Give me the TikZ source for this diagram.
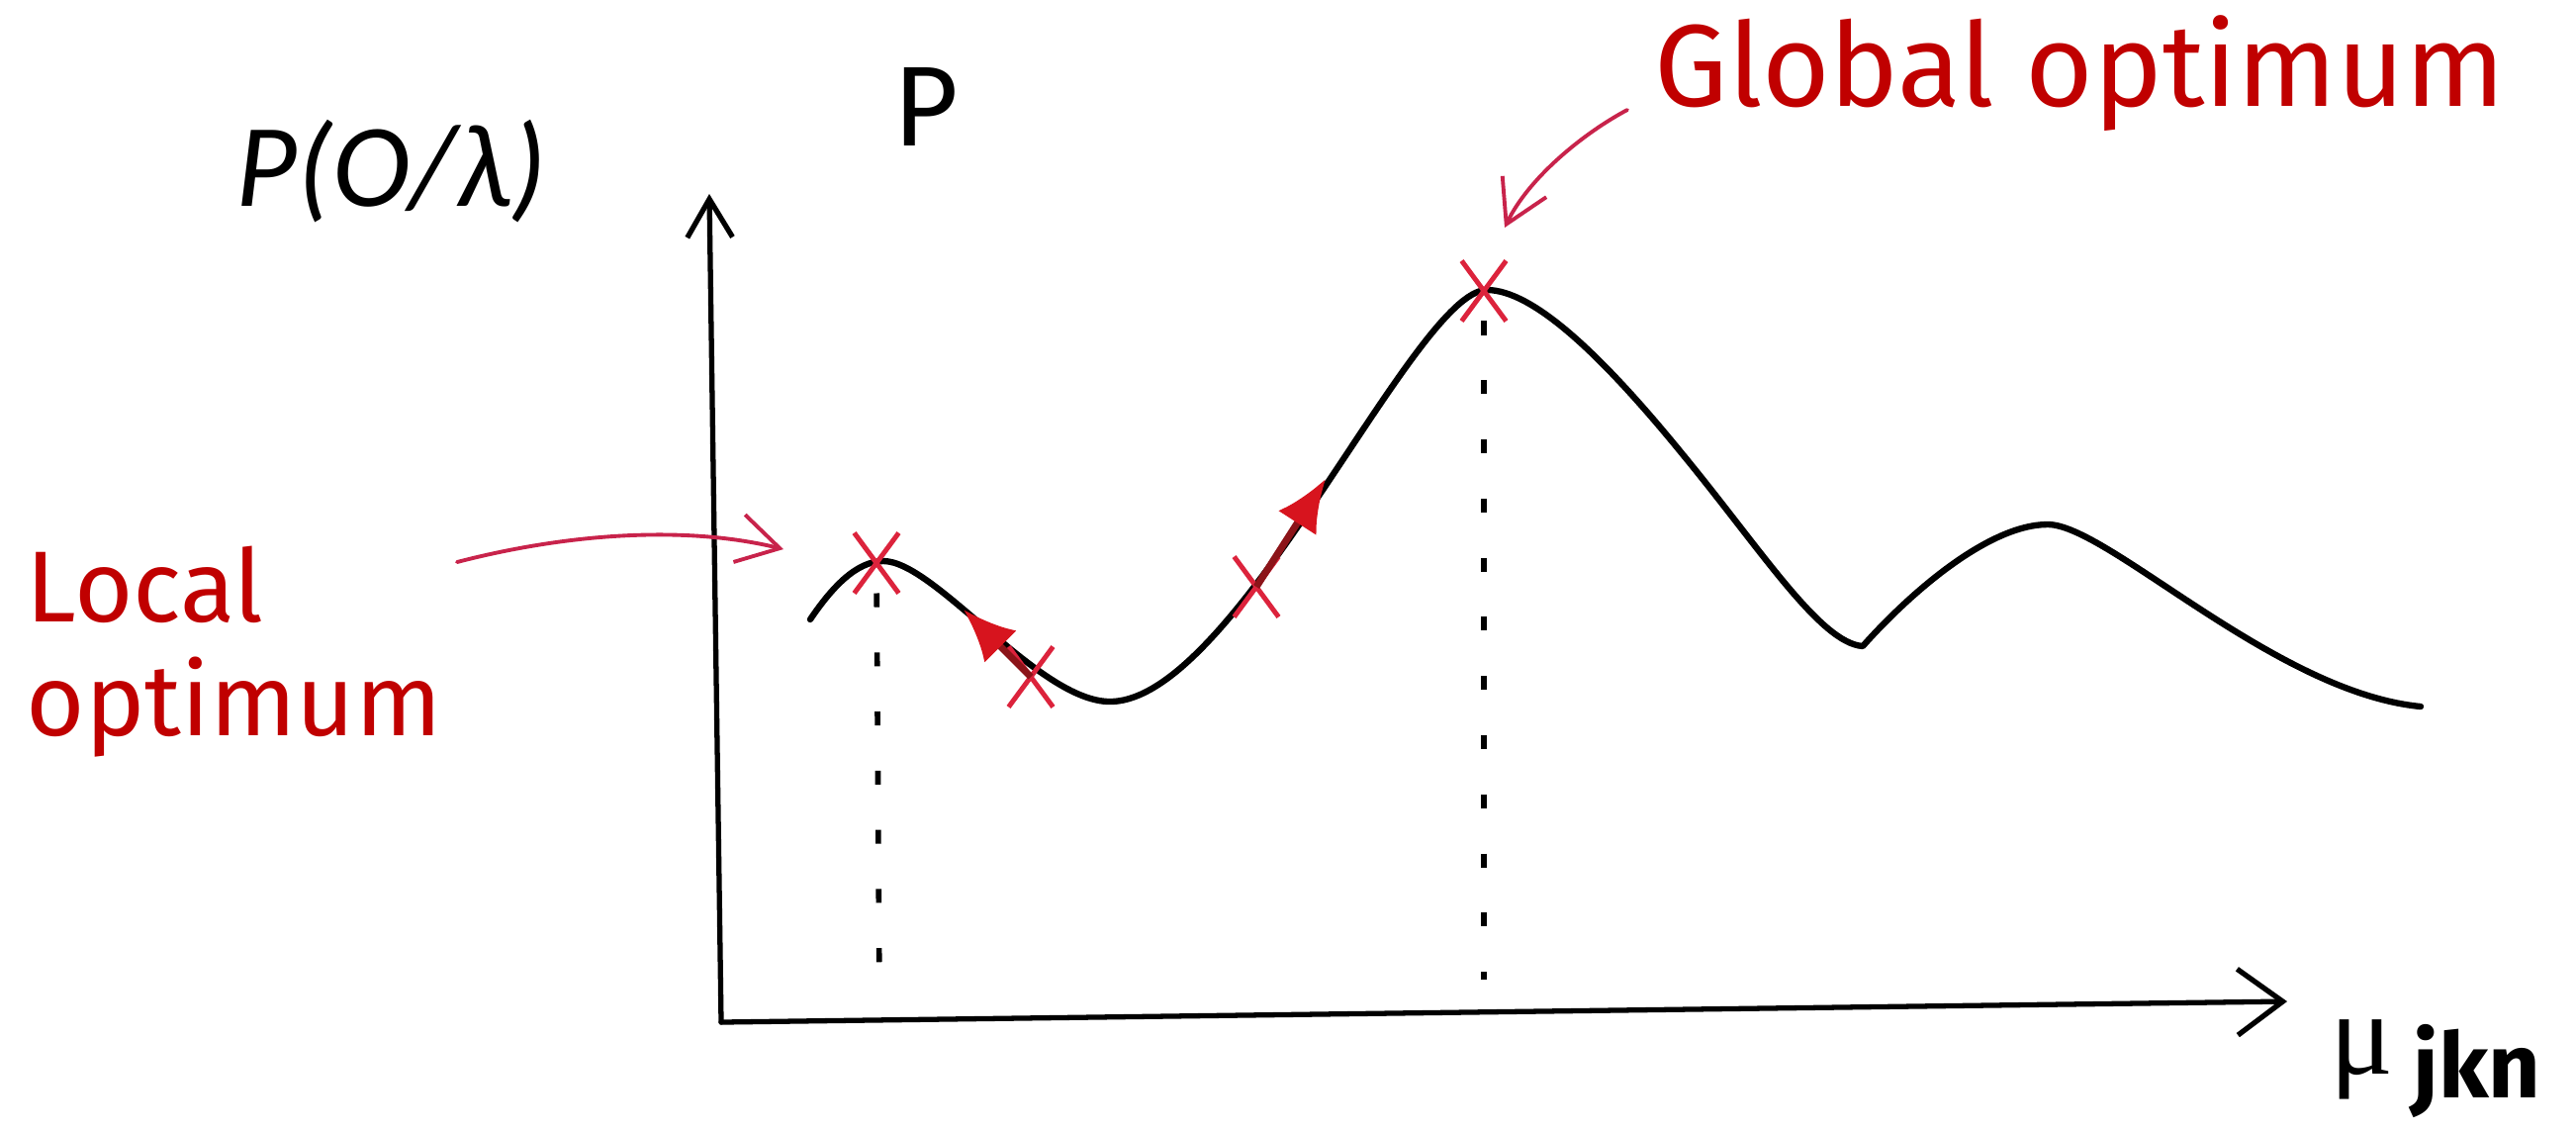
\documentclass[tikz,border=0pt]{standalone}
\usepackage{fontspec}
\setmainfont{Carlito}
\newfontfamily\firafont{Fira Sans}
\newfontfamily\greekfont{Liberation Serif}
\usetikzlibrary{arrows.meta,shapes.misc}
\definecolor{labelred}{RGB}{192,0,0}
\definecolor{penred}{RGB}{200,35,75}
\definecolor{crossred}{RGB}{220,35,60}
\definecolor{shaftred}{RGB}{140,20,25}
\definecolor{headred}{RGB}{215,20,30}
\tikzset{
    axis/.style={line width=1.5pt, black, line cap=round},
    curve/.style={line width=1.8pt, black, line cap=round, line join=round},
    dotline/.style={line width=1.6pt, black, dash pattern=on 4pt off 13pt},
    optmark/.style={cross out, draw=crossred, line width=1.4pt, minimum width=0.4cm, minimum height=0.56cm, inner sep=0pt},
    note/.style={line width=1.1pt, penred, line cap=round, -{Straight Barb[length=12pt,width=14pt]}},
    climb/.style={line width=2pt, shaftred, -{Latex[length=15pt,width=13pt,color=headred]}},
    txt/.style={inner sep=0pt, anchor=base west},
    redtxt/.style={txt, labelred},
}

\begin{document}
\begin{tikzpicture}[x=0.01cm, y=-0.01cm]
    \useasboundingbox (0,0) rectangle (2604,1144);

    % Axes
    \coordinate (O) at (729,1033);
    \coordinate (ytop) at (717,196);
    \coordinate (xend) at (2312,1012);
    \draw[axis, -{Straight Barb[length=11pt,width=13pt]}] (O) -- (ytop);
    \draw[axis, -{Straight Barb[length=13pt,width=19pt]}] (O) -- (xend);

    % Curve
    \coordinate (c0) at (819,626);
    \coordinate (cmin) at (1122,709);
    \coordinate (cmid) at (1700,458);
    \coordinate (cusp) at (1883,653);
    \coordinate (peak) at (2070,530);
    \coordinate (cend) at (2447,714);
    \draw[curve] (c0) .. controls (840,595) and (865,567) .. (893,567)
        .. controls (945,567) and (1050,709) .. (cmin)
        .. controls (1250,709) and (1430,293) .. (1503,293)
        .. controls (1550,293) and (1620,360) .. (cmid)
        .. controls (1780,555) and (1840,650) .. (cusp)
        .. controls (1930,600) and (2010,530) .. (peak)
        .. controls (2130,530) and (2300,700) .. (cend);

    % Marks on the curve
    \node[optmark] (lmax) at (886,569) {};
    \node[optmark] (gmax) at (1500,294) {};
    \node[optmark] (s1) at (1042,684) {};
    \node[optmark] (s2) at (1270,593) {};

    % Dotted drops
    \coordinate (lfoot) at (889,1012);
    \coordinate (gfoot) at (1500,990);
    \draw[dotline] (lmax) -- (lfoot);
    \draw[dotline] (gmax) -- (gfoot);

    % Climbing steps
    \coordinate (t1) at (974,616);
    \coordinate (t2) at (1340,484);
    \draw[climb] (s1.center) -- (t1);
    \draw[climb] (s2.center) -- (t2);

    % Pointers
    \coordinate (lstart) at (462,568);
    \coordinate (ltip) at (792,555);
    \draw[note] (lstart) .. controls (570,540) and (690,530) .. (ltip);
    \coordinate (gstart) at (1645,111);
    \coordinate (gtip) at (1521,230);
    \draw[note] (gstart) .. controls (1600,135) and (1545,180) .. (gtip);

    % Labels
    \node[txt, font=\itshape\fontsize{34pt}{40pt}\selectfont] (ylab) at (238,208) {P(O/λ)};
    \node[txt, font=\fontsize{35pt}{40pt}\selectfont] (ptop) at (905,147) {P};
    \node[redtxt, font=\firafont\fontsize{33.5pt}{40pt}\selectfont] (glob) at (1672,107) {Global optimum};
    \node[redtxt, font=\firafont\fontsize{29pt}{33pt}\selectfont] (loc) at (26,628) {Local};
    \node[redtxt, font=\firafont\fontsize{29pt}{33pt}\selectfont] (loc2) at (26,743) {optimum};
    \node[txt, font=\greekfont\fontsize{34pt}{36pt}\selectfont] (mu) at (2355,1085) {μ\,\raisebox{-7pt}{\firafont\bfseries\fontsize{26pt}{28pt}\selectfont jkn}};
\end{tikzpicture}
\end{document}
